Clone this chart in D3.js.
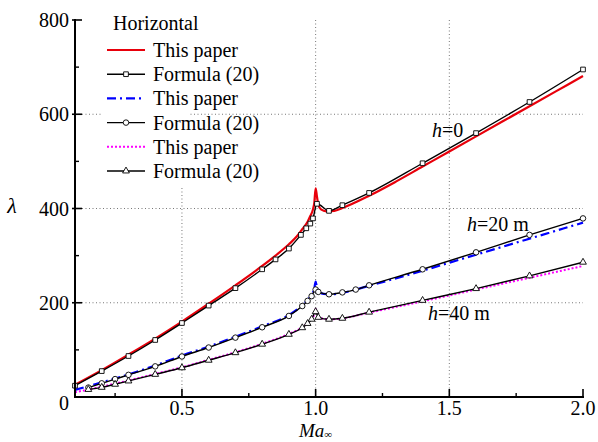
<!DOCTYPE html>
<html><head><meta charset="utf-8">
<script src="https://cdn.jsdelivr.net/npm/d3@7"></script>
<style>body{margin:0;background:#fff}svg{display:block}svg text{font-family:"Liberation Serif","Tinos","Times New Roman","Times","Nimbus Roman","FreeSerif","Noto Serif","DejaVu Serif",serif}</style>
</head><body><svg id="c" width="598" height="442"></svg>
<script>
// ---- data ----
const xPaper0 = [0.1,0.2,0.3,0.4,0.5,0.6,0.7,0.8,0.85,0.9,0.93,0.95,0.97,0.98,0.99,0.995,1.0,1.005,1.01,1.02,1.04,1.07,1.1,1.2,1.3,1.4,1.5,1.6,1.7,1.8,1.9,2.0];
const yPaper0 = [26,57,90,124,160,198,237,278,300,324,341,356,372,384,398,412,443,425,408,398,394,395,401,427,457,489,521,553,585,617,649,681];
const xFormula0 = [0.1,0.2,0.3,0.4,0.5,0.6,0.7,0.8,0.85,0.9,0.945,0.965,0.98,0.99,1.005,1.05,1.1,1.2,1.4,1.6,1.8,2.0];
const yFormula0 = [24,55,87,121,157,194,231,271,292,315,344,358,368,379,410,395,407,433,496,560,626,695];

const xPaper20 = [0.1,0.2,0.3,0.4,0.5,0.6,0.7,0.8,0.9,0.95,0.97,0.985,0.995,1.0,1.005,1.01,1.03,1.06,1.1,1.2,1.4,1.6,1.8,2.0];
const yPaper20 = [15,31,48,67,88,107,128,150,174,195,206,217,230,245,232,224,219,218,221,236,268,302,336,370];
const xFormula20 = [0.15,0.2,0.25,0.3,0.4,0.5,0.6,0.7,0.8,0.9,0.95,0.97,0.985,1.0,1.01,1.05,1.1,1.15,1.2,1.4,1.6,1.8,2.0];
const yFormula20 = [20,29,38,47,65,86,105,126,148,172,193,204,214,228,223,218,222,228,237,271,307,344,379];

const xPaper40 = [0.1,0.2,0.3,0.4,0.5,0.6,0.7,0.8,0.9,0.95,0.97,0.985,0.995,1.0,1.005,1.01,1.03,1.06,1.1,1.2,1.4,1.6,1.8,2.0];
const yPaper40 = [10,22,35,49,63,79,95,113,134,148,157,166,175,187,176,170,166,165,167,179,203,228,253,278];
const xFormula40 = [0.15,0.2,0.25,0.3,0.4,0.5,0.6,0.7,0.8,0.9,0.95,0.97,0.985,1.0,1.01,1.05,1.1,1.2,1.4,1.6,1.8,2.0];
const yFormula40 = [16,20.5,27,34,48,62,78,94,112,133,147,156,165,181,169,165,167,180,205,230,257,286];

const xTicks = [0.5,1.0,1.5,2.0];
const xTickLabels = ["0.5","1.0","1.5","2.0"];
const xMinor = [0.25,0.75,1.25,1.75];
const yTicks = [0,200,400,600,800];
const yTickLabels = ["0","200","400","600","800"];
const yMinor = [100,300,500,700];
const xGrid = [0.5,1.0,1.5];
const yGrid = [200,400,600];

const legendTitle = "Horizontal";
const legendLabels = ["This paper","Formula (20)","This paper","Formula (20)","This paper","Formula (20)"];
const annoText = [["h","=0"],["h","=20 m"],["h","=40 m"]];
const annoX = [1.435,1.566,1.42];
const annoY = [551,352,163];

// ---- chart ----
const svg = d3.select("#c");
const L=75, R=583, T=20, B=397;
const x = d3.scaleLinear().domain([0.1,2.0]).range([L,R]);
const y = d3.scaleLinear().domain([0,800]).range([B,T]);

const grid = svg.append("g").attr("stroke","#777").attr("stroke-width",1).attr("stroke-dasharray","1,2.5");
grid.selectAll(".gx").data(xGrid).join("line").attr("x1",d=>x(d)).attr("x2",d=>x(d)).attr("y1",T).attr("y2",B);
grid.selectAll(".gy").data(yGrid).join("line").attr("x1",L).attr("x2",R).attr("y1",d=>y(d)).attr("y2",d=>y(d));

const zip=(a,b)=>a.map((v,i)=>[v,b[i]]);
const line = d3.line().x(d=>x(d[0])).y(d=>y(d[1])).curve(d3.curveMonotoneX);

const styles = {
  red:{stroke:"#e8000b",w:2.2,dash:null},
  blue:{stroke:"#0000ff",w:2.2,dash:"9,4,2,4"},
  mag:{stroke:"#ff00ff",w:2,dash:"2,2"},
  black:{stroke:"#000",w:1.4,dash:null}
};
function drawLine(data,s){
  svg.append("path").datum(data).attr("d",line).attr("fill","none")
    .attr("stroke",s.stroke).attr("stroke-width",s.w).attr("stroke-dasharray",s.dash);
}
drawLine(zip(xPaper0,yPaper0),styles.red);
drawLine(zip(xPaper20,yPaper20),styles.blue);
drawLine(zip(xPaper40,yPaper40),styles.mag);
drawLine(zip(xFormula0,yFormula0),styles.black);
drawLine(zip(xFormula20,yFormula20),styles.black);
drawLine(zip(xFormula40,yFormula40),styles.black);

const sq = d3.symbol().type(d3.symbolSquare).size(22);
const ci = d3.symbol().type(d3.symbolCircle).size(24);
const tr = d3.symbol().type(d3.symbolTriangle).size(20);
function markers(data,sym){
  svg.append("g").selectAll("path").data(data).join("path")
    .attr("d",sym).attr("transform",d=>`translate(${x(d[0])},${y(d[1])})`)
    .attr("fill","#fff").attr("stroke","#000").attr("stroke-width",0.9);
}
markers(zip(xFormula0,yFormula0),sq);
markers(zip(xFormula20,yFormula20),ci);
markers(zip(xFormula40,yFormula40),tr);

// axes
const ax = svg.append("g").attr("stroke","#000");
ax.append("line").attr("x1",L).attr("x2",R+1).attr("y1",B).attr("y2",B).attr("stroke-width",2);
ax.append("line").attr("x1",L).attr("x2",L).attr("y1",T-1).attr("y2",B+1).attr("stroke-width",2);
ax.selectAll(".xt").data(xTicks).join("line").attr("x1",d=>x(d)).attr("x2",d=>x(d)).attr("y1",B).attr("y2",B-8).attr("stroke-width",1.6);
ax.selectAll(".xm").data(xMinor).join("line").attr("x1",d=>x(d)).attr("x2",d=>x(d)).attr("y1",B).attr("y2",B-4).attr("stroke-width",1.4);
ax.selectAll(".yt").data(yTicks.slice(1)).join("line").attr("x1",L-3).attr("x2",L+7).attr("y1",d=>y(d)).attr("y2",d=>y(d)).attr("stroke-width",1.6);
ax.selectAll(".ym").data(yMinor).join("line").attr("x1",L).attr("x2",L+4).attr("y1",d=>y(d)).attr("y2",d=>y(d)).attr("stroke-width",1.4);

svg.append("g").selectAll("text").data(xTicks).join("text")
  .attr("x",d=>x(d)).attr("y",B+18).attr("text-anchor","middle").attr("font-size",20)
  .text((d,i)=>xTickLabels[i]);
svg.append("g").selectAll("text").data(yTicks).join("text")
  .attr("x",L-6).attr("y",d=>y(d)+(d===0?13:7)).attr("text-anchor","end").attr("font-size",20)
  .text((d,i)=>yTickLabels[i]);

// axis titles
const xt = svg.append("text").attr("x",x(1.0)).attr("y",437).attr("text-anchor","middle").attr("font-size",19);
xt.append("tspan").attr("font-style","italic").text("Ma");
xt.append("tspan").attr("font-size",11).attr("dy",1).text("∞");
svg.append("text").attr("x",12).attr("y",213).attr("text-anchor","middle").attr("font-size",22).attr("font-style","italic").text("λ");

// annotations
annoText.forEach((t,i)=>{
  const tx = svg.append("text").attr("x",x(annoX[i])).attr("y",y(annoY[i])).attr("font-size",20);
  tx.append("tspan").attr("font-style","italic").text(t[0]);
  tx.append("tspan").text(t[1]);
});

// legend
const lg = svg.append("g");
lg.append("rect").attr("x",101).attr("y",8).attr("width",89).attr("height",180).attr("fill","#fff");
lg.append("text").attr("x",113).attr("y",30).attr("font-size",20).text(legendTitle);
const legStyles = [styles.red,styles.black,styles.blue,styles.black,styles.mag,styles.black];
const legSyms = [null,sq,null,ci,null,tr];
legendLabels.forEach((lab,i)=>{
  const cy = 50 + i*24.2;
  const s = legStyles[i];
  lg.append("line").attr("x1",107).attr("x2",145).attr("y1",cy).attr("y2",cy)
    .attr("stroke",s.stroke).attr("stroke-width",s.w).attr("stroke-dasharray",s.dash);
  if(legSyms[i]) lg.append("path").attr("d",legSyms[i]).attr("transform",`translate(126,${cy})`)
    .attr("fill","#fff").attr("stroke","#000").attr("stroke-width",0.9);
  lg.append("text").attr("x",153).attr("y",cy+7).attr("font-size",20).text(lab);
});
</script></body></html>
